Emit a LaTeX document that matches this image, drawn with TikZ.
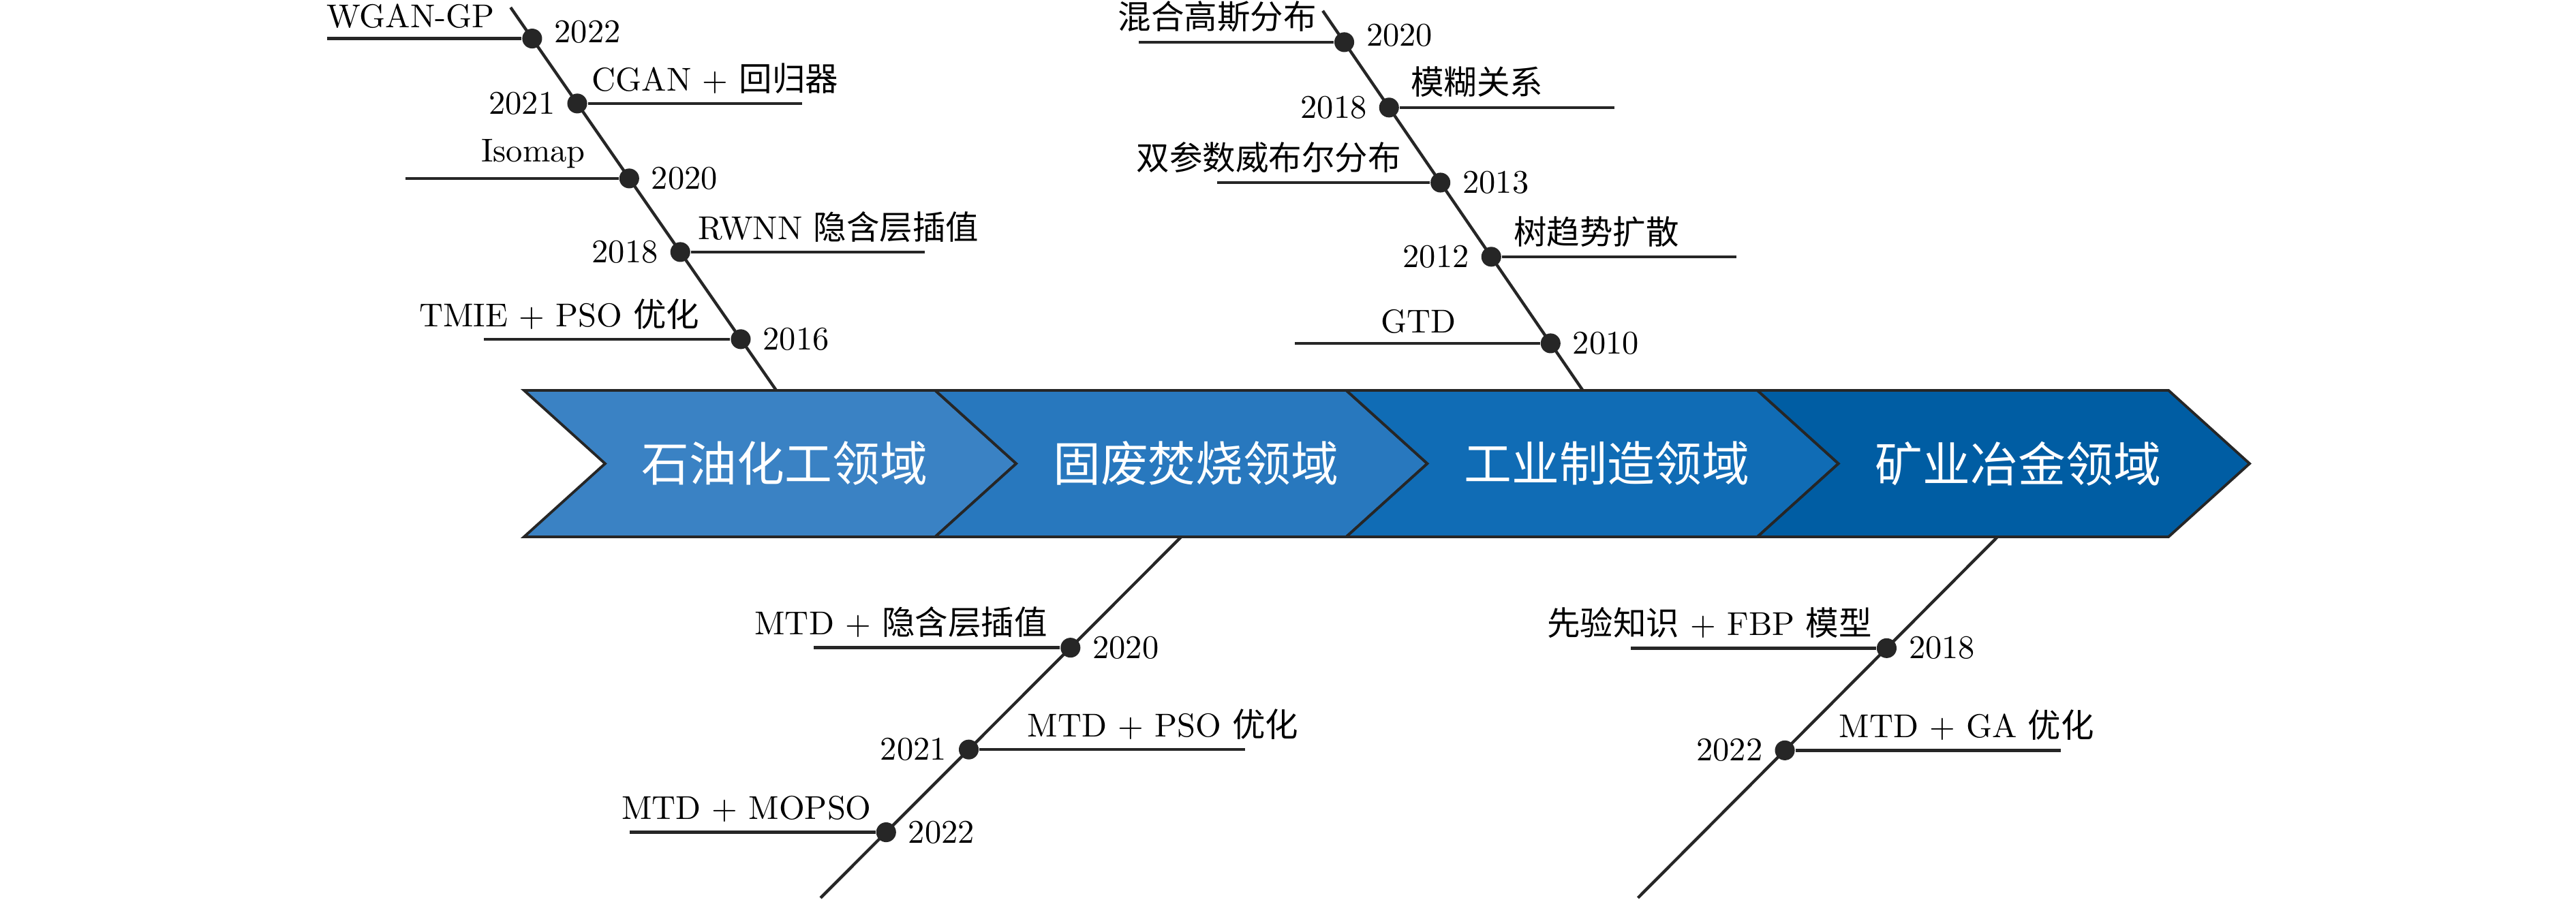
\documentclass[tikz,border=0pt]{standalone}
\usepackage{fontspec}
\usepackage{tikz}
\usetikzlibrary{positioning,calc}
\newfontfamily\cjk{Noto Sans CJK SC}
\definecolor{linecol}{HTML}{262626}
\definecolor{fieldA}{HTML}{3A82C4}
\definecolor{fieldB}{HTML}{2878BE}
\definecolor{fieldC}{HTML}{106CB5}
\definecolor{fieldD}{HTML}{005DA3}
\tikzset{
  chev/.style={draw=linecol, line width=0.8pt},
  field/.style={font=\Large\cjk, text=white},
  dot/.style={circle, fill=linecol, inner sep=0pt, minimum size=6pt},
  bone/.style={draw=linecol, line width=0.9pt},
  lbl/.style={anchor=south, inner sep=2.8pt},
}
\begin{document}
\begin{tikzpicture}
      \useasboundingbox (0,0) rectangle (27.391,9.572);
      %% Spine ends
      \coordinate (ta) at (5.429,9.493);
      \coordinate (ba) at (8.254,5.42);
      \coordinate (tc) at (14.065,9.457);
      \coordinate (bc) at (16.83,5.42);
      \coordinate (tb) at (12.56,3.862);
      \coordinate (bb) at (8.725,0.022);
      \coordinate (td) at (21.24,3.862);
      \coordinate (bd) at (17.416,0.022);
      \draw[bone] (ta) -- (ba);
      \draw[bone] (tc) -- (bc);
      \draw[bone] (tb) -- (bb);
      \draw[bone] (td) -- (bd);
      %% Field arrows
      \foreach \i/\col/\txt in {0/fieldA/石油化工领域,1/fieldB/固废焚烧领域,2/fieldC/工业制造领域,3/fieldD/矿业冶金领域}{
        \pgfmathsetmacro\xa{5.572+4.3715*\i}
        \draw[chev,fill=\col] (\xa,5.42) -- ++(4.3715,0) -- ++(0.862,-0.779) -- ++(-0.862,-0.779)
          -- ++(-4.3715,0) -- ++(0.862,0.779) -- cycle;
        \node[field] (f\i) at (\xa+2.772,4.641) {\txt};
      }
      %% Petrochemical
      \node[dot] (a1) at ($(ta)!0.0813!(ba)$) {};
      \node[dot] (a2) at ($(ta)!0.2509!(ba)$) {};
      \node[dot] (a3) at ($(ta)!0.4466!(ba)$) {};
      \node[dot] (a4) at ($(ta)!0.6388!(ba)$) {};
      \node[dot] (a5) at ($(ta)!0.8664!(ba)$) {};
      \draw[bone] (a1) -- (a1 -| 3.478,0);
      \draw[bone] (a2) -- (a2 -| 8.529,0);
      \draw[bone] (a3) -- (a3 -| 4.312,0);
      \draw[bone] (a4) -- (a4 -| 9.833,0);
      \draw[bone] (a5) -- (a5 -| 5.145,0);
      \node[lbl] (la1) at (4.366,0 |- a1) {WGAN-GP};
      \node[lbl] (la2) at (7.605,0 |- a2) {CGAN + {\cjk 回归器}};
      \node[lbl] (la3) at (5.670,0 |- a3) {Isomap};
      \node[lbl] (la4) at (8.917,0 |- a4) {RWNN {\cjk 隐含层插值}};
      \node[lbl] (la5) at (5.946,0 |- a5) {TMIE + PSO {\cjk 优化}};
      \node[right=0pt of a1,yshift=2pt] (ya1) {2022};
      \node[left=0pt of a2] (ya2) {2021};
      \node[right=0pt of a3] (ya3) {2020};
      \node[left=0pt of a4] (ya4) {2018};
      \node[right=0pt of a5] (ya5) {2016};
      %% Manufacturing
      \node[dot] (c1) at ($(tc)!0.0827!(bc)$) {};
      \node[dot] (c2) at ($(tc)!0.2549!(bc)$) {};
      \node[dot] (c3) at ($(tc)!0.4526!(bc)$) {};
      \node[dot] (c4) at ($(tc)!0.6480!(bc)$) {};
      \node[dot] (c5) at ($(tc)!0.8761!(bc)$) {};
      \draw[bone] (c1) -- (c1 -| 12.109,0);
      \draw[bone] (c2) -- (c2 -| 17.167,0);
      \draw[bone] (c3) -- (c3 -| 12.942,0);
      \draw[bone] (c4) -- (c4 -| 18.464,0);
      \draw[bone] (c5) -- (c5 -| 13.768,0);
      \node[lbl] (lc1) at (12.942,0 |- c1) {\cjk 混合高斯分布};
      \node[lbl] (lc2) at (15.703,0 |- c2) {\cjk 模糊关系};
      \node[lbl] (lc3) at (13.489,0 |- c3) {\cjk 双参数威布尔分布};
      \node[lbl] (lc4) at (16.975,0 |- c4) {\cjk 树趋势扩散};
      \node[lbl] (lc5) at (15.080,0 |- c5) {GTD};
      \node[right=0pt of c1,yshift=2pt] (yc1) {2020};
      \node[left=0pt of c2] (yc2) {2018};
      \node[right=0pt of c3] (yc3) {2013};
      \node[left=0pt of c4] (yc4) {2012};
      \node[right=0pt of c5] (yc5) {2010};
      %% Waste incineration
      \node[dot] (b1) at ($(tb)!0.3070!(bb)$) {};
      \node[dot] (b2) at ($(tb)!0.5891!(bb)$) {};
      \node[dot] (b3) at ($(tb)!0.8182!(bb)$) {};
      \draw[bone] (b1) -- (b1 -| 8.650,0);
      \draw[bone] (b2) -- (b2 -| 13.236,0);
      \draw[bone] (b3) -- (b3 -| 6.693,0);
      \node[lbl] (lb1) at (9.580,0 |- b1) {MTD + {\cjk 隐含层插值}};
      \node[lbl] (lb2) at (12.365,0 |- b2) {MTD + PSO {\cjk 优化}};
      \node[lbl] (lb3) at (7.938,0 |- b3) {MTD + MOPSO};
      \node[right=0pt of b1] (yb1) {2020};
      \node[left=0pt of b2] (yb2) {2021};
      \node[right=0pt of b3] (yb3) {2022};
      %% Mining and metallurgy
      \node[dot] (d1) at ($(td)!0.3083!(bd)$) {};
      \node[dot] (d2) at ($(td)!0.5914!(bd)$) {};
      \draw[bone] (d1) -- (d1 -| 17.341,0);
      \draw[bone] (d2) -- (d2 -| 21.915,0);
      \node[lbl] (ld1) at (18.178,0 |- d1) {{\cjk 先验知识} + FBP {\cjk 模型}};
      \node[lbl] (ld2) at (20.911,0 |- d2) {MTD + GA {\cjk 优化}};
      \node[right=0pt of d1] (yd1) {2018};
      \node[left=0pt of d2] (yd2) {2022};
    \end{tikzpicture}
\end{document}
